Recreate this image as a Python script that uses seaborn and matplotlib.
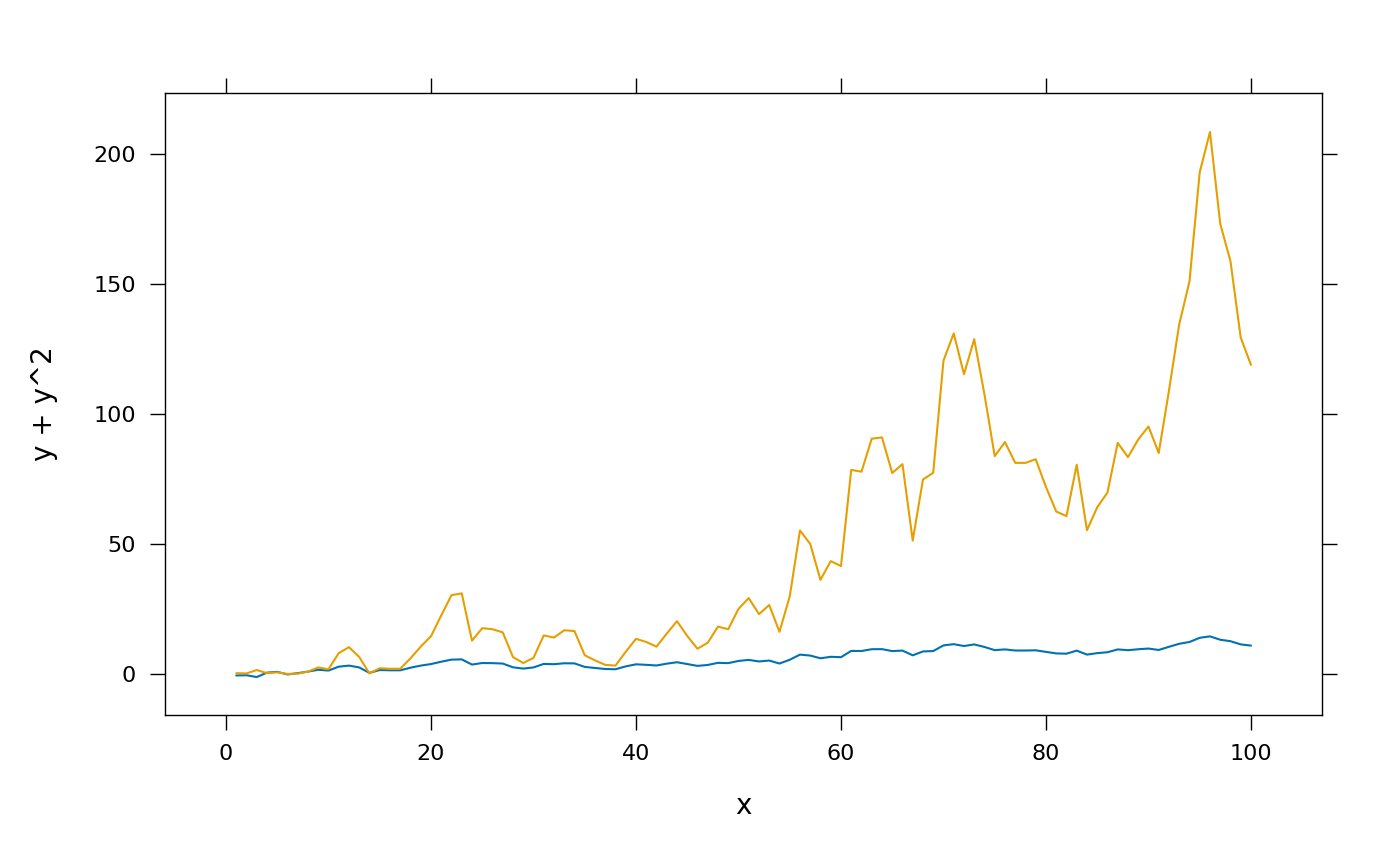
import numpy as np
import pandas as pd
import matplotlib
matplotlib.use("Agg")
import matplotlib.pyplot as plt
import seaborn as sns

x = list(range(1, 101))
y = [-0.6, -0.5, -1.2, 0.5, 0.8, -0.2, 0.3, 0.9, 1.6, 1.3,
     2.8, 3.2, 2.5, 0.4, 1.5, 1.4, 1.4, 2.4, 3.2, 3.8,
     4.7, 5.5, 5.6, 3.6, 4.2, 4.15, 4.0, 2.55, 2.05, 2.5,
     3.85, 3.75, 4.1, 4.06, 2.7, 2.3, 1.9, 1.8, 2.9, 3.7,
     3.5, 3.25, 3.95, 4.5, 3.8, 3.1, 3.45, 4.27, 4.15, 5.0,
     5.4, 4.8, 5.15, 4.0, 5.45, 7.43, 7.07, 6.02, 6.59, 6.44,
     8.86, 8.82, 9.51, 9.54, 8.79, 8.98, 7.16, 8.65, 8.8, 10.98,
     11.45, 10.74, 11.35, 10.37, 9.15, 9.44, 9.01, 9.01, 9.09, 8.48,
     7.9, 7.79, 8.97, 7.44, 8.0, 8.35, 9.43, 9.13, 9.5, 9.76,
     9.22, 10.44, 11.6, 12.29, 13.9, 14.45, 13.16, 12.59, 11.37, 10.9]
y2 = [0.3, 0.2, 1.5, 0.3, 0.6, 0.0, 0.1, 0.9, 2.5, 1.8,
      8.0, 10.3, 6.5, 0.2, 2.2, 2.0, 2.0, 6.0, 10.5, 14.5,
      22.5, 30.3, 31.0, 12.8, 17.6, 17.2, 16.0, 6.5, 4.2, 6.2,
      14.8, 14.0, 16.8, 16.5, 7.2, 5.2, 3.5, 3.2, 8.5, 13.5,
      12.3, 10.5, 15.5, 20.3, 14.6, 9.7, 12.0, 18.2, 17.2, 25.0,
      29.2, 23.0, 26.5, 16.2, 29.8, 55.2, 50.0, 36.2, 43.4, 41.5,
      78.5, 77.8, 90.5, 91.0, 77.3, 80.7, 51.3, 74.8, 77.4, 120.5,
      131.0, 115.3, 128.8, 107.5, 83.8, 89.2, 81.2, 81.2, 82.6, 71.9,
      62.5, 60.7, 80.5, 55.3, 64.1, 69.8, 88.9, 83.4, 90.2, 95.2,
      85.0, 109.0, 134.5, 151.0, 193.0, 208.5, 173.2, 158.8, 129.4, 118.9]
series_names = ["y", "y^2"]
colors = ["#0072B2", "#E69F00"]
y_ticks = [0, 50, 100, 150, 200]
x_ticks = [0, 20, 40, 60, 80, 100]

df = pd.DataFrame({
    "x": x * 2,
    "value": y + y2,
    "series": [series_names[0]] * len(x) + [series_names[1]] * len(x),
})

sns.set_theme(style="white")
plt.rcParams["font.family"] = ["DejaVu Sans"]

fig = plt.figure(figsize=(14, 8.66), dpi=100)
ax = fig.add_axes([165 / 1400, 1 - 715 / 866, (1322 - 165) / 1400, (715 - 93) / 866])
sns.lineplot(data=df, x="x", y="value", hue="series", palette=colors,
             hue_order=series_names, linewidth=1.5, ax=ax, legend=False)

ax.set_xlim(-5.95, 106.93)
ax.set_ylim(-15.8, 223.5)
ax.set_xticks(x_ticks)
ax.set_yticks(y_ticks)
ax.tick_params(axis="both", which="both", direction="out", length=11, width=1,
               color="black", labelsize=16, labelcolor="black",
               top=True, right=True, bottom=True, left=True,
               labeltop=False, labelright=False, pad=10)
for s in ax.spines.values():
    s.set_color("black")
    s.set_linewidth(1)
ax.set_xlabel("x", fontsize=20, color="black")
ax.set_ylabel("y + y^2", fontsize=20, color="black")
ax.xaxis.set_label_coords(0.5, (715 - 806) / 622)
ax.xaxis.label.set_verticalalignment("center")
ax.yaxis.set_label_coords((44 - 165) / 1157, 0.5)
ax.yaxis.label.set_verticalalignment("center")
ax.grid(False)

fig.savefig("out.png", dpi=100, facecolor="white")
